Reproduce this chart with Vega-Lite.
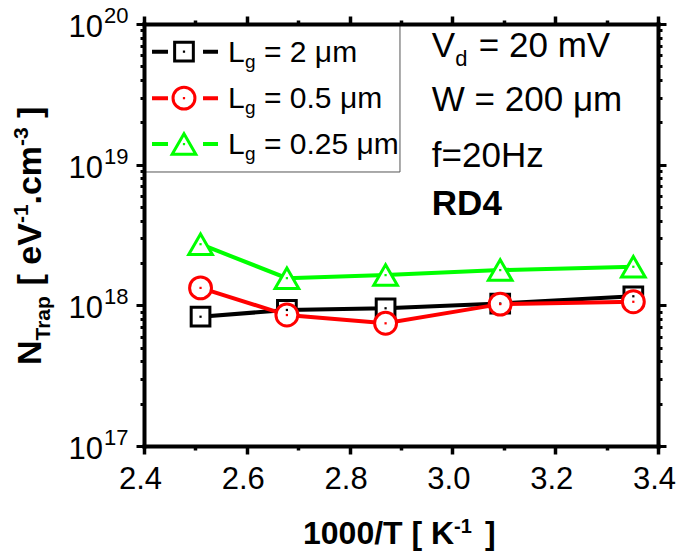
{
  "$schema": "https://vega.github.io/schema/vega-lite/v6.json",
  "width": 514,
  "height": 422,
  "autosize": {"type": "none"},
  "padding": {"left": 144, "top": 24, "right": 19, "bottom": 107},
  "background": "white",
  "config": {"view": {"stroke": null}, "font": "Liberation Sans", "text": {"font": "Liberation Sans", "color": "black"}},
  "datasets": {
    "traps": [
      {"series": "Lg = 2 μm", "invT": 2.51, "ntrap": 8.3e17},
      {"series": "Lg = 2 μm", "invT": 2.678, "ntrap": 9.27e17},
      {"series": "Lg = 2 μm", "invT": 2.87, "ntrap": 9.53e17},
      {"series": "Lg = 2 μm", "invT": 3.093, "ntrap": 1.03e18},
      {"series": "Lg = 2 μm", "invT": 3.352, "ntrap": 1.16e18},
      {"series": "Lg = 0.5 μm", "invT": 2.51, "ntrap": 1.33e18},
      {"series": "Lg = 0.5 μm", "invT": 2.678, "ntrap": 8.53e17},
      {"series": "Lg = 0.5 μm", "invT": 2.87, "ntrap": 7.45e17},
      {"series": "Lg = 0.5 μm", "invT": 3.093, "ntrap": 1.02e18},
      {"series": "Lg = 0.5 μm", "invT": 3.352, "ntrap": 1.06e18},
      {"series": "Lg = 0.25 μm", "invT": 2.51, "ntrap": 2.72e18},
      {"series": "Lg = 0.25 μm", "invT": 2.678, "ntrap": 1.56e18},
      {"series": "Lg = 0.25 μm", "invT": 2.87, "ntrap": 1.64e18},
      {"series": "Lg = 0.25 μm", "invT": 3.093, "ntrap": 1.78e18},
      {"series": "Lg = 0.25 μm", "invT": 3.352, "ntrap": 1.88e18}
    ],
    "decades": [
      {"v": 1e17, "e": "17"},
      {"v": 1e18, "e": "18"},
      {"v": 1e19, "e": "19"},
      {"v": 1e20, "e": "20"}
    ],
    "one": [{}]
  },
  "resolve": {"axis": {"x": "independent", "y": "independent"}},
  "layer": [
    {
      "layer": [
        {
          "data": {"name": "one"},
          "mark": {"type": "rect", "stroke": "#555555", "strokeWidth": 1, "fillOpacity": 0},
          "encoding": {"x": {"datum": 2.4}, "x2": {"datum": 2.898}, "y": {"datum": 1e20}, "y2": {"datum": 8.87e18}}
        },
        {
          "data": {"name": "traps"},
          "mark": {"type": "line", "strokeWidth": 4},
          "encoding": {
            "x": {
              "field": "invT", "type": "quantitative",
              "scale": {"domain": [2.4, 3.4], "nice": false, "zero": false},
              "axis": {
                "orient": "bottom", "title": null, "grid": false, "zindex": 1,
                "values": [2.4, 2.5, 2.6, 2.7, 2.8, 2.9, 3.0, 3.1, 3.2, 3.3, 3.4],
                "labelExpr": "round(datum.value*10)%2==0 ? format(datum.value,'.1f') : ''",
                "tickSize": {"condition": {"test": "round(datum.value*10)%2==0", "value": 8}, "value": 4},
                "tickWidth": 3.5, "tickColor": "black", "domainColor": "black", "domainWidth": 4, "domainCap": "square",
                "labelFont": "Liberation Sans", "labelFontSize": 31, "labelColor": "black", "labelPadding": 10,
                "labelOffset": -4, "labelFlush": false, "labelOverlap": false
              }
            },
            "y": {
              "field": "ntrap", "type": "quantitative",
              "scale": {"type": "log", "domain": [1e17, 1e20], "nice": false},
              "axis": {
                "orient": "left", "title": null, "grid": false, "zindex": 1, "labels": false,
                "values": [1e17, 2e17, 3e17, 4e17, 5e17, 6e17, 7e17, 8e17, 9e17, 1e18, 2e18, 3e18, 4e18, 5e18, 6e18, 7e18, 8e18, 9e18, 1e19, 2e19, 3e19, 4e19, 5e19, 6e19, 7e19, 8e19, 9e19, 1e20],
                "tickSize": {"condition": {"test": "abs(log(datum.value)/LN10 - round(log(datum.value)/LN10)) < 0.001", "value": 8}, "value": 4},
                "tickWidth": 3, "tickColor": "black", "domainColor": "black", "domainWidth": 4, "domainCap": "square"
              }
            },
            "color": {
              "field": "series", "type": "nominal", "legend": null,
              "scale": {"domain": ["Lg = 2 μm", "Lg = 0.5 μm", "Lg = 0.25 μm"], "range": ["#000000", "#ff0000", "#00ff00"]}
            },
            "order": {"field": "invT"}
          }
        },
        {
          "data": {"name": "decades"},
          "mark": {"type": "text", "text": "10", "align": "right", "baseline": "middle", "dx": -41, "dy": 4, "fontSize": 31},
          "encoding": {"x": {"datum": 2.4}, "y": {"field": "v", "type": "quantitative"}}
        },
        {
          "data": {"name": "decades"},
          "mark": {"type": "text", "align": "left", "baseline": "middle", "dx": -40, "dy": -8, "fontSize": 22},
          "encoding": {"x": {"datum": 2.4}, "y": {"field": "v", "type": "quantitative"}, "text": {"field": "e"}}
        },
        {
          "data": {"name": "one"},
          "mark": {"type": "text", "text": "1000/T [ K", "align": "left", "baseline": "alphabetic", "dx": -98, "dy": 98, "fontSize": 32, "fontWeight": "bold"},
          "encoding": {"x": {"datum": 2.9}, "y": {"datum": 1e17}}
        },
        {
          "data": {"name": "one"},
          "mark": {"type": "text", "text": "-1", "align": "left", "baseline": "alphabetic", "dx": 53, "dy": 87, "fontSize": 20, "fontWeight": "bold"},
          "encoding": {"x": {"datum": 2.9}, "y": {"datum": 1e17}}
        },
        {
          "data": {"name": "one"},
          "mark": {"type": "text", "text": "]", "align": "left", "baseline": "alphabetic", "dx": 84, "dy": 98, "fontSize": 32, "fontWeight": "bold"},
          "encoding": {"x": {"datum": 2.9}, "y": {"datum": 1e17}}
        },
        {
          "data": {"name": "one"},
          "mark": {"type": "text", "text": "N", "angle": 270, "align": "left", "baseline": "alphabetic", "dx": 81, "dy": 0, "fontSize": 34, "fontWeight": "bold"},
          "encoding": {"x": {"datum": 2.2}, "y": {"datum": 1e17}}
        },
        {
          "data": {"name": "one"},
          "mark": {"type": "text", "text": "Trap", "angle": 270, "align": "left", "baseline": "alphabetic", "dx": 105.5, "dy": 9, "fontSize": 21, "fontWeight": "bold"},
          "encoding": {"x": {"datum": 2.2}, "y": {"datum": 1e17}}
        },
        {
          "data": {"name": "one"},
          "mark": {"type": "text", "text": "[ eV", "angle": 270, "align": "left", "baseline": "alphabetic", "dx": 160.5, "dy": 0, "fontSize": 34, "fontWeight": "bold"},
          "encoding": {"x": {"datum": 2.2}, "y": {"datum": 1e17}}
        },
        {
          "data": {"name": "one"},
          "mark": {"type": "text", "text": "-1", "angle": 270, "align": "left", "baseline": "alphabetic", "dx": 223, "dy": -13, "fontSize": 21, "fontWeight": "bold"},
          "encoding": {"x": {"datum": 2.2}, "y": {"datum": 1e17}}
        },
        {
          "data": {"name": "one"},
          "mark": {"type": "text", "text": ".cm", "angle": 270, "align": "left", "baseline": "alphabetic", "dx": 241.5, "dy": 0, "fontSize": 34, "fontWeight": "bold"},
          "encoding": {"x": {"datum": 2.2}, "y": {"datum": 1e17}}
        },
        {
          "data": {"name": "one"},
          "mark": {"type": "text", "text": "-3", "angle": 270, "align": "left", "baseline": "alphabetic", "dx": 300, "dy": -13, "fontSize": 21, "fontWeight": "bold"},
          "encoding": {"x": {"datum": 2.2}, "y": {"datum": 1e17}}
        },
        {
          "data": {"name": "one"},
          "mark": {"type": "text", "text": "]", "angle": 270, "align": "left", "baseline": "alphabetic", "dx": 328, "dy": 0, "fontSize": 34, "fontWeight": "bold"},
          "encoding": {"x": {"datum": 2.2}, "y": {"datum": 1e17}}
        },
        {
          "data": {"name": "one"},
          "mark": {"type": "rule", "strokeWidth": 4, "strokeDash": [16, 35], "color": "#000000"},
          "encoding": {"x": {"datum": 2.4156}, "x2": {"datum": 2.544}, "y": {"datum": 6.36e19}}
        },
        {
          "data": {"name": "one"},
          "mark": {"type": "rule", "strokeWidth": 4, "strokeDash": [16, 35], "color": "#ff0000"},
          "encoding": {"x": {"datum": 2.4156}, "x2": {"datum": 2.544}, "y": {"datum": 2.97e19}}
        },
        {
          "data": {"name": "one"},
          "mark": {"type": "rule", "strokeWidth": 4, "strokeDash": [16, 35], "color": "#00ff00"},
          "encoding": {"x": {"datum": 2.4156}, "x2": {"datum": 2.544}, "y": {"datum": 1.4e19}}
        },
        {
          "data": {"name": "one"},
          "mark": {"type": "point", "shape": "square", "size": 350, "filled": true, "fill": "white", "stroke": "#000000", "strokeWidth": 3, "opacity": 1},
          "encoding": {"x": {"datum": 2.4778}, "y": {"datum": 6.36e19}}
        },
        {
          "data": {"name": "one"},
          "mark": {"type": "point", "shape": "circle", "size": 480, "filled": true, "fill": "white", "stroke": "#ff0000", "strokeWidth": 3, "opacity": 1},
          "encoding": {"x": {"datum": 2.4778}, "y": {"datum": 2.97e19}}
        },
        {
          "data": {"name": "one"},
          "mark": {"type": "point", "shape": "triangle-up", "size": 560, "filled": true, "fill": "white", "stroke": "#00ff00", "strokeWidth": 3, "opacity": 1},
          "encoding": {"x": {"datum": 2.4778}, "y": {"datum": 1.4e19}}
        },
        {
          "data": {"name": "one"},
          "mark": {"type": "point", "shape": "square", "size": 5, "filled": true, "color": "#000000", "opacity": 1},
          "encoding": {"x": {"datum": 2.4778}, "y": {"datum": 6.36e19}}
        },
        {
          "data": {"name": "one"},
          "mark": {"type": "point", "shape": "square", "size": 5, "filled": true, "color": "#ff0000", "opacity": 1},
          "encoding": {"x": {"datum": 2.4778}, "y": {"datum": 2.97e19}}
        },
        {
          "data": {"name": "one"},
          "mark": {"type": "point", "shape": "square", "size": 5, "filled": true, "color": "#00ff00", "opacity": 1},
          "encoding": {"x": {"datum": 2.4778}, "y": {"datum": 1.4e19}}
        },
        {
          "data": {"name": "one"},
          "mark": {"type": "text", "text": "L", "align": "left", "baseline": "alphabetic", "dy": 10, "fontSize": 30},
          "encoding": {"x": {"datum": 2.5634}, "y": {"datum": 6.36e19}}
        },
        {
          "data": {"name": "one"},
          "mark": {"type": "text", "text": "g", "align": "left", "baseline": "alphabetic", "dx": 17, "dy": 16, "fontSize": 19},
          "encoding": {"x": {"datum": 2.5634}, "y": {"datum": 6.36e19}}
        },
        {
          "data": {"name": "one"},
          "mark": {"type": "text", "text": "= 2 μm", "align": "left", "baseline": "alphabetic", "dx": 36, "dy": 10, "fontSize": 30},
          "encoding": {"x": {"datum": 2.5634}, "y": {"datum": 6.36e19}}
        },
        {
          "data": {"name": "one"},
          "mark": {"type": "text", "text": "L", "align": "left", "baseline": "alphabetic", "dy": 10, "fontSize": 30},
          "encoding": {"x": {"datum": 2.5634}, "y": {"datum": 2.97e19}}
        },
        {
          "data": {"name": "one"},
          "mark": {"type": "text", "text": "g", "align": "left", "baseline": "alphabetic", "dx": 17, "dy": 16, "fontSize": 19},
          "encoding": {"x": {"datum": 2.5634}, "y": {"datum": 2.97e19}}
        },
        {
          "data": {"name": "one"},
          "mark": {"type": "text", "text": "= 0.5 μm", "align": "left", "baseline": "alphabetic", "dx": 36, "dy": 10, "fontSize": 30},
          "encoding": {"x": {"datum": 2.5634}, "y": {"datum": 2.97e19}}
        },
        {
          "data": {"name": "one"},
          "mark": {"type": "text", "text": "L", "align": "left", "baseline": "alphabetic", "dy": 10, "fontSize": 30},
          "encoding": {"x": {"datum": 2.5634}, "y": {"datum": 1.4e19}}
        },
        {
          "data": {"name": "one"},
          "mark": {"type": "text", "text": "g", "align": "left", "baseline": "alphabetic", "dx": 17, "dy": 16, "fontSize": 19},
          "encoding": {"x": {"datum": 2.5634}, "y": {"datum": 1.4e19}}
        },
        {
          "data": {"name": "one"},
          "mark": {"type": "text", "text": "= 0.25 μm", "align": "left", "baseline": "alphabetic", "dx": 36, "dy": 10, "fontSize": 30},
          "encoding": {"x": {"datum": 2.5634}, "y": {"datum": 1.4e19}}
        },
        {
          "data": {"name": "one"},
          "mark": {"type": "text", "text": "V", "align": "left", "baseline": "alphabetic", "dy": 33, "fontSize": 35},
          "encoding": {"x": {"datum": 2.96}, "y": {"datum": 1e20}}
        },
        {
          "data": {"name": "one"},
          "mark": {"type": "text", "text": "d", "align": "left", "baseline": "alphabetic", "dx": 23.5, "dy": 42, "fontSize": 22},
          "encoding": {"x": {"datum": 2.96}, "y": {"datum": 1e20}}
        },
        {
          "data": {"name": "one"},
          "mark": {"type": "text", "text": "= 20 mV", "align": "left", "baseline": "alphabetic", "dx": 47, "dy": 33, "fontSize": 35},
          "encoding": {"x": {"datum": 2.96}, "y": {"datum": 1e20}}
        },
        {
          "data": {"name": "one"},
          "mark": {"type": "text", "text": "W = 200 μm", "align": "left", "baseline": "alphabetic", "dy": 87, "fontSize": 35},
          "encoding": {"x": {"datum": 2.96}, "y": {"datum": 1e20}}
        },
        {
          "data": {"name": "one"},
          "mark": {"type": "text", "text": "f=20Hz", "align": "left", "baseline": "alphabetic", "dy": 143, "fontSize": 35},
          "encoding": {"x": {"datum": 2.96}, "y": {"datum": 1e20}}
        },
        {
          "data": {"name": "one"},
          "mark": {"type": "text", "text": "RD4", "align": "left", "baseline": "alphabetic", "dy": 191, "fontSize": 35, "fontWeight": "bold"},
          "encoding": {"x": {"datum": 2.96}, "y": {"datum": 1e20}}
        }
      ]
    },
    {
      "layer": [
        {
          "data": {"name": "traps"},
          "mark": {"type": "point", "filled": true, "fill": "white", "strokeWidth": 3, "opacity": 1},
          "encoding": {
            "x": {
              "field": "invT", "type": "quantitative",
              "axis": {
                "orient": "top", "title": null, "grid": false, "zindex": 1, "labels": false,
                "values": [2.4, 2.5, 2.6, 2.7, 2.8, 2.9, 3.0, 3.1, 3.2, 3.3, 3.4],
                "tickSize": {"condition": {"test": "round(datum.value*10)%2==0", "value": 8}, "value": 4},
                "tickWidth": 3.5, "tickColor": "black", "domainColor": "black", "domainWidth": 4, "domainCap": "square"
              }
            },
            "y": {
              "field": "ntrap", "type": "quantitative",
              "axis": {
                "orient": "right", "title": null, "grid": false, "zindex": 1, "labels": false,
                "values": [1e17, 2e17, 3e17, 4e17, 5e17, 6e17, 7e17, 8e17, 9e17, 1e18, 2e18, 3e18, 4e18, 5e18, 6e18, 7e18, 8e18, 9e18, 1e19, 2e19, 3e19, 4e19, 5e19, 6e19, 7e19, 8e19, 9e19, 1e20],
                "tickSize": {"condition": {"test": "abs(log(datum.value)/LN10 - round(log(datum.value)/LN10)) < 0.001", "value": 8}, "value": 4},
                "tickWidth": 3, "tickColor": "black", "domainColor": "black", "domainWidth": 4, "domainCap": "square"
              }
            },
            "stroke": {
              "field": "series", "type": "nominal", "legend": null,
              "scale": {"domain": ["Lg = 2 μm", "Lg = 0.5 μm", "Lg = 0.25 μm"], "range": ["#000000", "#ff0000", "#00ff00"]}
            },
            "shape": {
              "field": "series", "type": "nominal", "legend": null,
              "scale": {"domain": ["Lg = 2 μm", "Lg = 0.5 μm", "Lg = 0.25 μm"], "range": ["square", "circle", "triangle-up"]}
            },
            "size": {
              "condition": [
                {"test": "datum.series === 'Lg = 2 μm'", "value": 350},
                {"test": "datum.series === 'Lg = 0.5 μm'", "value": 480}
              ],
              "value": 560
            }
          }
        },
        {
          "data": {"name": "traps"},
          "mark": {"type": "point", "shape": "square", "size": 5, "filled": true, "opacity": 1},
          "encoding": {
            "x": {"field": "invT", "type": "quantitative"},
            "y": {"field": "ntrap", "type": "quantitative"},
            "color": {"field": "series", "type": "nominal", "legend": null}
          }
        }
      ]
    }
  ]
}
